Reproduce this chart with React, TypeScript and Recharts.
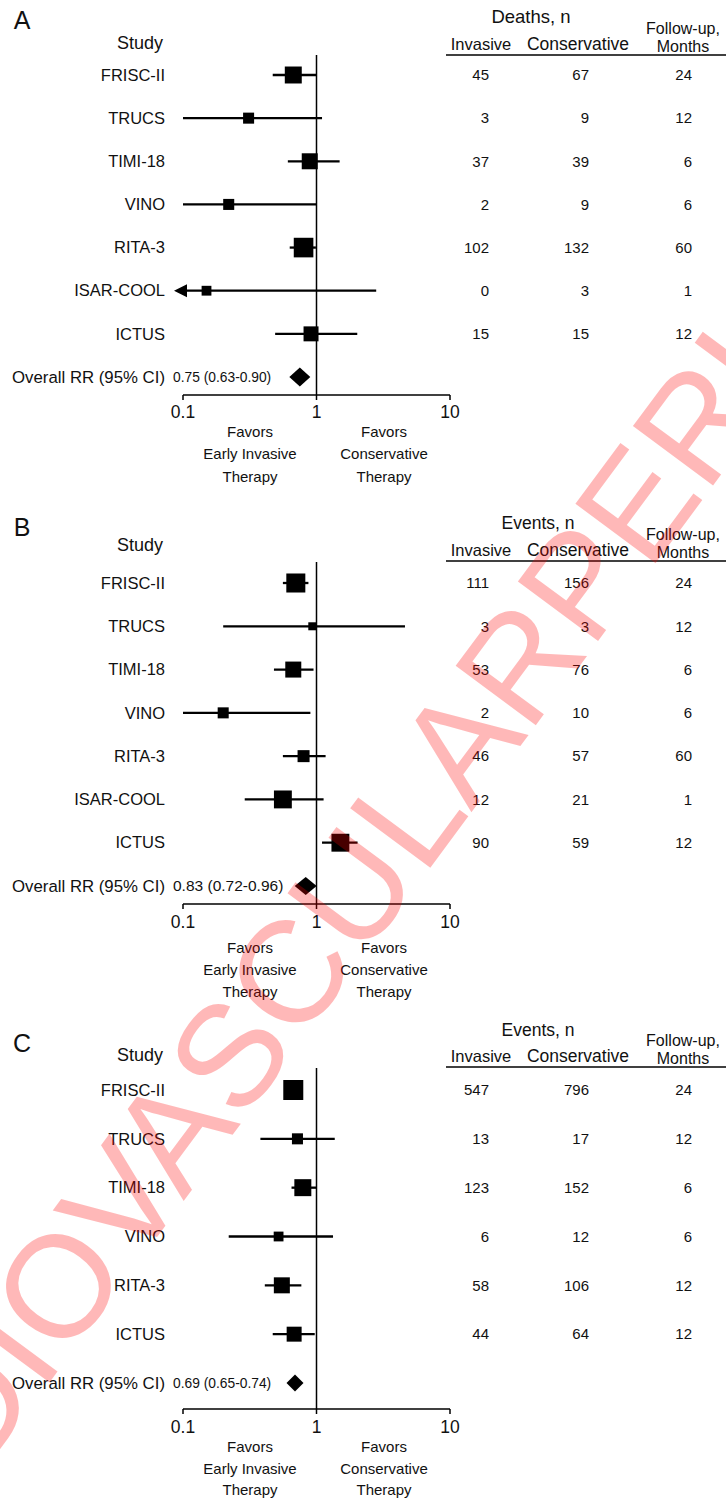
import React from "react";
import { ScatterChart, Scatter, XAxis, YAxis, ReferenceLine, ReferenceDot } from "recharts";

const X_MIN = 0.1;
const X_MAX = 10;
const xTicks = [0.1, 1, 10];

// A: deaths
const studiesA = ["FRISC-II", "TRUCS", "TIMI-18", "VINO", "RITA-3", "ISAR-COOL", "ICTUS"];
const rrA = [0.67, 0.31, 0.89, 0.22, 0.8, 0.15, 0.91];
const lowA = [0.47, 0.1, 0.61, 0.1, 0.63, 0.01, 0.49];
const highA = [1.0, 1.1, 1.49, 1.0, 0.99, 2.8, 2.02];
const weightA = [18, 7.6, 16, 7.6, 24, 6, 14];
const invasiveA = [45, 3, 37, 2, 102, 0, 15];
const conservativeA = [67, 9, 39, 9, 132, 3, 15];
const followUpA = [24, 12, 6, 6, 60, 1, 12];
const overallA = [0.75, 0.63, 0.9];

// B: events
const studiesB = ["FRISC-II", "TRUCS", "TIMI-18", "VINO", "RITA-3", "ISAR-COOL", "ICTUS"];
const rrB = [0.7, 0.93, 0.67, 0.2, 0.8, 0.56, 1.51];
const lowB = [0.56, 0.2, 0.48, 0.1, 0.56, 0.29, 1.1];
const highB = [0.87, 4.6, 0.95, 0.9, 1.17, 1.13, 2.03];
const weightB = [22.6, 4, 16, 7.6, 9, 20, 20];
const invasiveB = [111, 3, 53, 2, 46, 12, 90];
const conservativeB = [156, 3, 76, 10, 57, 21, 59];
const followUpB = [24, 12, 6, 6, 60, 1, 12];
const overallB = [0.83, 0.72, 0.96];

// C: events
const studiesC = ["FRISC-II", "TRUCS", "TIMI-18", "VINO", "RITA-3", "ICTUS"];
const rrC = [0.67, 0.72, 0.79, 0.52, 0.55, 0.68];
const lowC = [0.61, 0.38, 0.65, 0.22, 0.41, 0.47];
const highC = [0.73, 1.37, 1.0, 1.33, 0.77, 0.97];
const weightC = [25, 7.6, 18, 6, 16, 14];
const invasiveC = [547, 13, 123, 6, 58, 44];
const conservativeC = [796, 17, 152, 12, 106, 64];
const followUpC = [24, 12, 6, 6, 12, 12];
const overallC = [0.69, 0.65, 0.74];

const FONT = '"Liberation Sans", Arial, Helvetica, sans-serif';
const INK = "#111";

const Square = (props: any) => {
  const { cx, cy, payload } = props;
  const s = 4 * Math.sqrt(payload.w);
  return <rect x={cx - s / 2} y={cy - s / 2} width={s} height={s} fill="#000" />;
};

const Arrow = (props: any) => {
  const { cx, cy } = props;
  return <polygon points={`${cx - 9},${cy} ${cx + 4},${cy - 6.5} ${cx + 4},${cy + 6.5}`} fill="#000" />;
};

const makeDiamond = (w: number, h: number) => (props: any) => {
  const { cx, cy } = props;
  return (
    <polygon
      points={`${cx - w / 2},${cy} ${cx},${cy - h / 2} ${cx + w / 2},${cy} ${cx},${cy + h / 2}`}
      fill="#000"
    />
  );
};

function ForestPanel(p: any) {
  const n = p.studies.length;
  const step = (p.overallRow - p.firstRow) / n;
  const chartTop = p.refTop - 10;
  const height = p.axisY - chartTop + 34;
  const dMin = -(p.firstRow - p.refTop) / step;
  const dMax = n + (p.axisY - p.overallRow) / step;
  const rows = Array.from({ length: n + 1 }, (_, i) => i);

  const points = p.studies.map((_: string, i: number) => ({ rr: p.rr[i], row: i, w: p.weight[i] }));
  const cutRows = rows.filter((i) => i < n && p.low[i] < X_MIN);
  const summary = [{ rr: p.overall[0], row: n }];
  const overallText = `${p.overall[0].toFixed(2)} (${p.overall[1].toFixed(2)}-${p.overall[2].toFixed(2)})`;

  const renderTick = (t: any) => {
    const i = t.payload.value;
    const y = t.y;
    if (i === n) {
      return (
        <g>
          <text x={165} y={y} dy="0.35em" textAnchor="end" fontSize={16.8} fill={INK}>
            Overall RR (95% CI)
          </text>
          <text x={173} y={y} dy="0.35em" fontSize={p.overallFont} fill={INK}>
            {overallText}
          </text>
        </g>
      );
    }
    return (
      <g fill={INK}>
        <text x={165} y={y} dy="0.35em" textAnchor="end" fontSize={16.5}>
          {p.studies[i]}
        </text>
        <text x={489} y={y} dy="0.35em" textAnchor="end" fontSize={15}>
          {p.invasive[i]}
        </text>
        <text x={589} y={y} dy="0.35em" textAnchor="end" fontSize={15}>
          {p.conservative[i]}
        </text>
        <text x={692} y={y} dy="0.35em" textAnchor="end" fontSize={15}>
          {p.followUp[i]}
        </text>
      </g>
    );
  };

  return (
    <div style={{ position: "absolute", left: 0, top: chartTop }}>
      <ScatterChart width={726} height={height} margin={{ top: 10, right: 276, bottom: 0, left: 0 }}>
        <XAxis
          type="number"
          dataKey="rr"
          scale="log"
          domain={[X_MIN, X_MAX]}
          ticks={xTicks}
          allowDataOverflow
          interval={0}
          height={34}
          tickSize={5}
          tickMargin={p.tickGap}
          stroke="#000"
          strokeWidth={1.5}
          tick={{ fill: INK, fontSize: 17.5 }}
          tickFormatter={(v: number) => String(v)}
        />
        <YAxis
          type="number"
          dataKey="row"
          domain={[dMin, dMax]}
          reversed
          allowDataOverflow
          ticks={rows}
          interval={0}
          width={183}
          axisLine={false}
          tickLine={false}
          tick={renderTick}
        />
        <ReferenceLine x={1} stroke="#000" strokeWidth={1.5} />
        {points.map((d: any, i: number) => (
          <ReferenceLine
            key={i}
            segment={[
              { x: Math.max(p.low[i], X_MIN), y: i },
              { x: Math.min(p.high[i], X_MAX), y: i },
            ]}
            stroke="#000"
            strokeWidth={2.3}
          />
        ))}
        {cutRows.map((i: number) => (
          <ReferenceDot key={"arrow" + i} x={X_MIN} y={i} ifOverflow="visible" shape={Arrow} />
        ))}
        <Scatter data={points} shape={Square} isAnimationActive={false} />
        <Scatter data={summary} shape={makeDiamond(p.diamond[0], p.diamond[1])} isAnimationActive={false} />
      </ScatterChart>
    </div>
  );
}

function PanelText({ g }: any) {
  return (
    <g fill={INK}>
      <text x={22} y={g.letterY} dy="0.35em" textAnchor="middle" fontSize={25}>
        {g.letter}
      </text>
      <text x={163} y={g.studyY} dy="0.35em" textAnchor="end" fontSize={18}>
        Study
      </text>
      <text x={g.titleX} y={g.titleY} dy="0.35em" textAnchor="middle" fontSize={g.titleSize}>
        {g.title}
      </text>
      <text x={481} y={g.colY} dy="0.35em" textAnchor="middle" fontSize={16.5}>
        Invasive
      </text>
      <text x={578} y={g.colY} dy="0.35em" textAnchor="middle" fontSize={17.5}>
        Conservative
      </text>
      <text x={683} y={g.colY - 15.5} dy="0.35em" textAnchor="middle" fontSize={16}>
        Follow-up,
      </text>
      <text x={683} y={g.colY + 2.5} dy="0.35em" textAnchor="middle" fontSize={16}>
        Months
      </text>
      <line x1={446} x2={726} y1={g.lineY} y2={g.lineY} stroke="#000" strokeWidth={1.5} />
      {["Favors", "Early Invasive", "Therapy"].map((s, i) => (
        <text key={s} x={250} y={g.favorsY[i]} dy="0.35em" textAnchor="middle" fontSize={15}>
          {s}
        </text>
      ))}
      {["Favors", "Conservative", "Therapy"].map((s, i) => (
        <text key={s + i} x={384} y={g.favorsY[i]} dy="0.35em" textAnchor="middle" fontSize={15}>
          {s}
        </text>
      ))}
    </g>
  );
}

const textA = { letter: "A", letterY: 20, studyY: 43, title: "Deaths, n", titleSize: 18.5, titleX: 531, titleY: 17, colY: 44, lineY: 55, favorsY: [432, 454, 477] };
const textB = { letter: "B", letterY: 527, studyY: 545, title: "Events, n", titleSize: 17.5, titleX: 538, titleY: 523, colY: 550, lineY: 561, favorsY: [948, 970, 992] };
const textC = { letter: "C", letterY: 1043, studyY: 1055, title: "Events, n", titleSize: 17.5, titleX: 538, titleY: 1030, colY: 1056, lineY: 1067, favorsY: [1447, 1469, 1490] };

export default function App() {
  return (
    <div style={{ position: "absolute", left: 0, top: 0, width: 726, height: 1499, background: "#fff", fontFamily: FONT, overflow: "hidden" }}>
      <ForestPanel
        studies={studiesA} rr={rrA} low={lowA} high={highA} weight={weightA}
        invasive={invasiveA} conservative={conservativeA} followUp={followUpA} overall={overallA}
        refTop={55} firstRow={75} overallRow={377} axisY={395} diamond={[21, 19]} overallFont={13.8} tickGap={6}
      />
      <ForestPanel
        studies={studiesB} rr={rrB} low={lowB} high={highB} weight={weightB}
        invasive={invasiveB} conservative={conservativeB} followUp={followUpB} overall={overallB}
        refTop={562} firstRow={583} overallRow={886} axisY={904} diamond={[22, 18]} overallFont={15.5} tickGap={7}
      />
      <ForestPanel
        studies={studiesC} rr={rrC} low={lowC} high={highC} weight={weightC}
        invasive={invasiveC} conservative={conservativeC} followUp={followUpC} overall={overallC}
        refTop={1068} firstRow={1090} overallRow={1383} axisY={1409} diamond={[17, 17]} overallFont={13.8} tickGap={7}
      />
      <svg width={726} height={1499} style={{ position: "absolute", left: 0, top: 0, pointerEvents: "none" }}>
        <PanelText g={textA} />
        <PanelText g={textB} />
        <PanelText g={textC} />
        <text
          x={273}
          y={995}
          dy="0.35em"
          textAnchor="middle"
          fontSize={145}
          fill="rgb(255,0,0)"
          fillOpacity={0.28}
          transform="rotate(-53.5 273 995)"
        >
          CARDIOVASCULARPERU
        </text>
      </svg>
    </div>
  );
}
